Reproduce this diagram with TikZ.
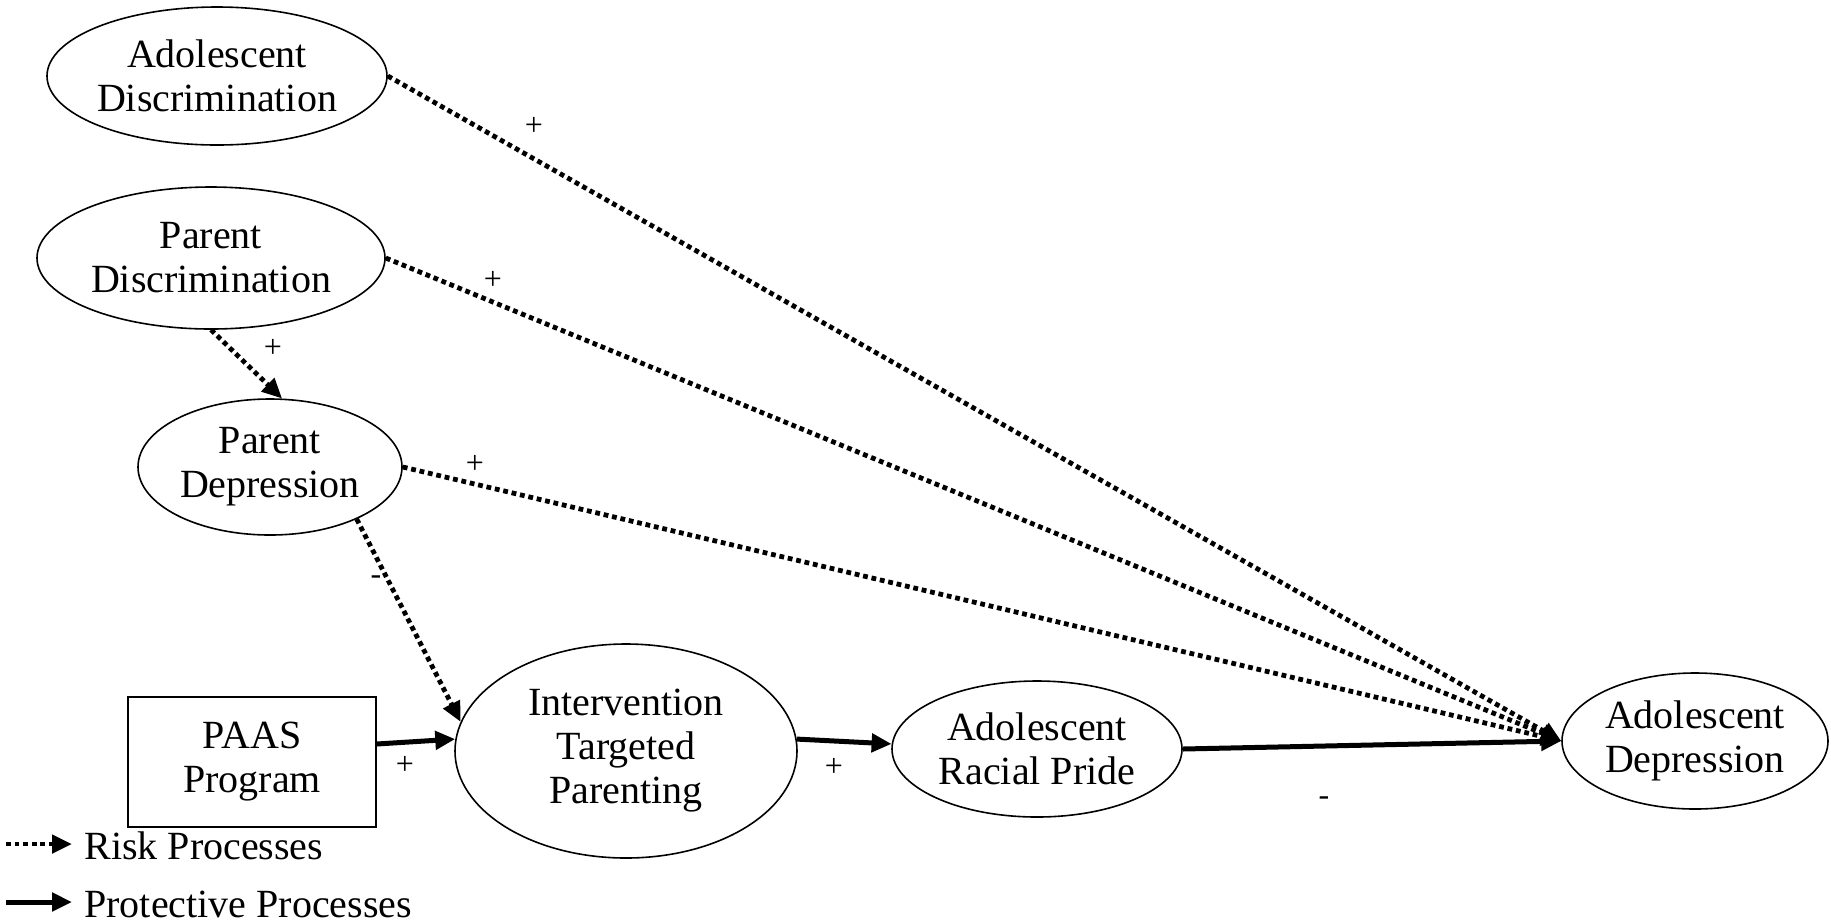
\documentclass[tikz,border=0pt]{standalone}
\usepackage{fontspec}
\setmainfont{Liberation Serif}
\usetikzlibrary{shapes.geometric,arrows.meta,calc}
\tikzset{
  var/.style={ellipse,draw,line width=0.8pt,inner sep=0pt,align=center,
    font=\fontsize{20}{22}\selectfont},
  box/.style={rectangle,draw,line width=0.8pt,inner sep=0pt,align=center,
    font=\fontsize{20}{22}\selectfont},
  risk/.style={line width=2.4pt,dash pattern=on 2.4pt off 1.9pt,
    -{Triangle[length=10pt,width=9pt]}},
  protect/.style={line width=2.5pt,-{Triangle[length=10pt,width=9pt]}},
  sign/.style={font=\fontsize{16}{16}\selectfont,inner sep=0pt},
  legend/.style={anchor=west,inner sep=0pt,font=\fontsize{20}{22}\selectfont}
}
\begin{document}
\begin{tikzpicture}[x=0.5pt,y=-0.5pt]
\useasboundingbox[fill=white] (0,0) rectangle (1831,923);

% variables
\node[var,minimum width=170pt,minimum height=69pt] (ad) at (217,76) {Adolescent\\Discrimination};
\node[var,minimum width=174pt,minimum height=71pt] (pd) at (211,258) {Parent\\Discrimination};
\node[var,minimum width=132pt,minimum height=68pt] (pdep) at (270,467) {Parent\\Depression};
\node[box,minimum width=124pt,minimum height=65pt] (paas) at (252,762) {PAAS\\Program};
\node[var,minimum width=171pt,minimum height=107pt] (itp) at (626,751) {Intervention\\Targeted\\Parenting};
\node[var,minimum width=145pt,minimum height=68pt] (arp) at (1037,749) {Adolescent\\Racial Pride};
\node[var,minimum width=133pt,minimum height=68pt] (adep) at (1695,741) {Adolescent\\Depression};

% risk paths
\draw[risk] (ad.east) -- (adep.west);
\draw[risk] (pd.east) -- (adep.west);
\draw[risk] (pdep.east) -- (adep.west);
\draw[risk] (pd.south) -- (pdep.80);
\draw[risk] (pdep.-31) -- (itp.170);

% protective paths
\draw[protect] ($(paas.east)+(0,-18)$) -- (itp.176);
\draw[protect] (itp.4) -- (arp.178);
\draw[protect] (arp.east) -- (adep.west);

% signs
\node[sign] (s1) at (534,126) {+};
\node[sign] (s2) at (493,280) {+};
\node[sign] (s3) at (273,348) {+};
\node[sign] (s4) at (475,464) {+};
\node[sign] (s5) at (376,580) {-};
\node[sign] (s6) at (405,765) {+};
\node[sign] (s7) at (834,767) {+};
\node[sign] (s8) at (1324,801) {-};

% legend
\node[legend] (lr) at (84,846) {Risk Processes};
\node[legend] (lp) at (84,904) {Protective Processes};
\coordinate (lr0) at (6,844);
\coordinate (lr1) at (72,844);
\coordinate (lp0) at (6,902);
\coordinate (lp1) at (72,902);
\draw[risk] (lr0) -- (lr1);
\draw[protect] (lp0) -- (lp1);
\end{tikzpicture}
\end{document}
